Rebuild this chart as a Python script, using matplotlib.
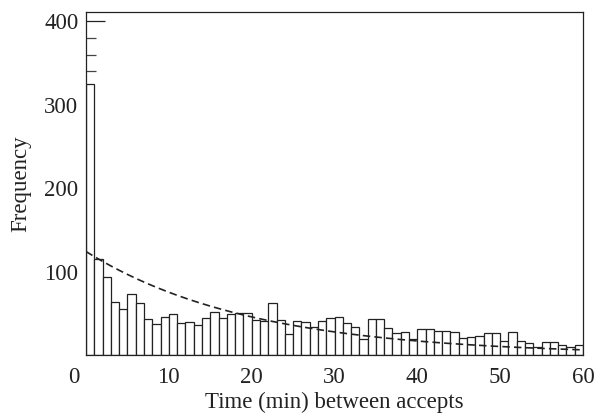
import numpy as np
import matplotlib
matplotlib.use("Agg")
import matplotlib.pyplot as plt
from matplotlib.transforms import ScaledTranslation

# Data: 1-minute bins from 0 to 60 min
bin_edges_start = list(range(0, 60))
counts = [325, 115, 94, 64, 55, 73, 62, 43, 37, 45,
          49, 38, 40, 36, 44, 51, 44, 49, 50, 50,
          42, 41, 62, 42, 25, 41, 39, 34, 41, 44,
          45, 38, 34, 19, 43, 43, 32, 26, 27, 19,
          31, 31, 29, 29, 27, 20, 21, 23, 26, 26,
          17, 27, 17, 14, 10, 16, 16, 12, 9, 12]
# exponential fit parameters (dashed curve)
fit_amplitude = 124.0
fit_tau = 20.0
xtick_vals = [0, 10, 20, 30, 40, 50, 60]
ytick_vals = [100, 200, 300, 400]
yminor_vals = [340, 360, 380]

plt.rcParams['font.family'] = ['Liberation Serif', 'DejaVu Serif']
FS = 16.5

fig = plt.figure(figsize=(5.96, 4.16), dpi=100)
ax = fig.add_axes([86/596, (416-355)/416, (583-86)/596, (355-12)/416])

ax.bar(bin_edges_start, counts, width=1.0, align='edge', color='white',
       edgecolor='#222222', linewidth=0.9, zorder=2)

t = np.linspace(0, 60, 300)
ax.plot(t, fit_amplitude * np.exp(-t / fit_tau), color='#222222', lw=1.2,
        linestyle=(0, (4.5, 2.5)), zorder=3)

ax.set_xlim(0, 60)
ax.set_ylim(0, 411)

ax.set_xticks(xtick_vals)
ax.set_xticklabels([str(v) for v in xtick_vals])
ax.tick_params(axis='x', length=0, pad=8.5, labelsize=FS, colors='#222222')
# shift the "0" label left, as in the reference
lbl0 = ax.get_xticklabels()[0]
lbl0.set_transform(lbl0.get_transform() + ScaledTranslation(-12/100, 0, fig.dpi_scale_trans))

ax.set_yticks(ytick_vals)
ax.set_yticklabels([str(v) for v in ytick_vals])
ax.tick_params(axis='y', which='major', direction='in', length=0, pad=5.5,
               labelsize=FS, colors='#222222', width=0.9)
ax.set_yticks(yminor_vals, minor=True)
ax.tick_params(axis='y', which='minor', direction='in', length=7, width=0.9,
               color='#444444')
# long tick at 400
tk = ax.yaxis.get_major_ticks()[-1]
tk.tick1line.set_markersize(14)

for s in ax.spines.values():
    s.set_color('#222222')
    s.set_linewidth(0.9)

ax.set_xlabel('Time (min) between accepts', fontsize=FS, color='#222222', labelpad=3)
ax.set_ylabel('Frequency', fontsize=FS, color='#222222', labelpad=9)

fig.savefig('out.png', dpi=100)
